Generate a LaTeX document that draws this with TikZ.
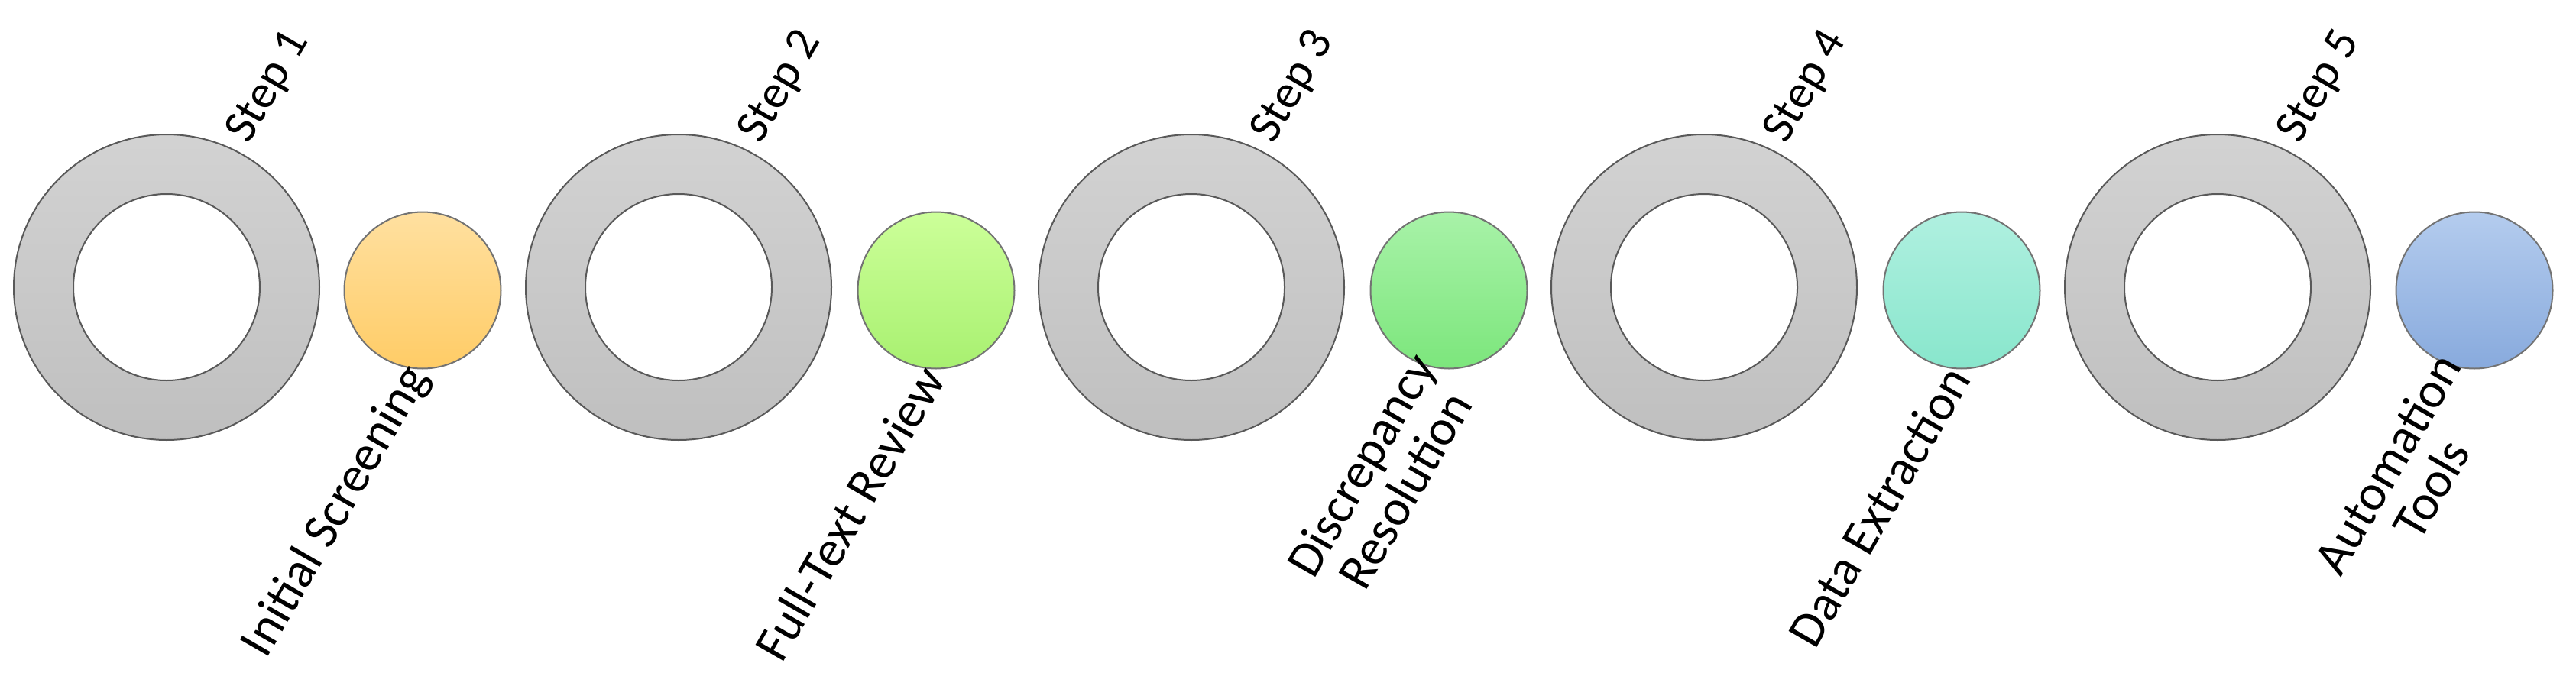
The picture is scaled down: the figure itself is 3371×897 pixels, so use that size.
\documentclass[tikz,border=0pt]{standalone}
\usepackage{fontspec}
\setmainfont{Carlito}
\begin{document}
\begin{tikzpicture}[x=1pt,y=-1pt,
  ringst/.style={draw=black!65,line width=2pt,top color=gray!35,bottom color=gray!50},
  holest/.style={draw=black!65,line width=2pt,fill=white},
  dotst/.style={draw=black!55,line width=2pt},
  steplbl/.style={font=\fontsize{62}{64}\selectfont,rotate=60},
  namelbl/.style={font=\fontsize{66}{66}\selectfont,rotate=60,anchor=east,align=center}]
\useasboundingbox (0,0) rectangle (3371,897);
\foreach \i/\rx/\sx/\ct/\cb/\lab in {1/218/553/FFE0A0/FFCC66/Initial Screening,2/888/1225/CCFF99/A8F070/Full-Text Review,3/1559/1896/A8F2A8/7CE67C/{Discrepancy\\Resolution},4/2230/2567/B0F0E0/88E6CC/Data Extraction,5/2902/3238/B4CCEE/88AADD/{Automation\\Tools}}{
  \definecolor{ct\i}{HTML}{\ct}\definecolor{cb\i}{HTML}{\cb}
  \node[ringst,circle,minimum size=400pt,inner sep=0] (ring\i) at (\rx,376) {};
  \node[holest,circle,minimum size=244pt,inner sep=0] (hole\i) at (\rx,376) {};
  \node[dotst,circle,minimum size=205pt,inner sep=0,top color=ct\i,bottom color=cb\i] (dot\i) at (\sx,380) {};
  \node[steplbl] (step\i) at (\rx+134,114) {Step \i};
  \node[namelbl] (name\i) at (\sx-4,482) {\lab};
}
\end{tikzpicture}
\end{document}
